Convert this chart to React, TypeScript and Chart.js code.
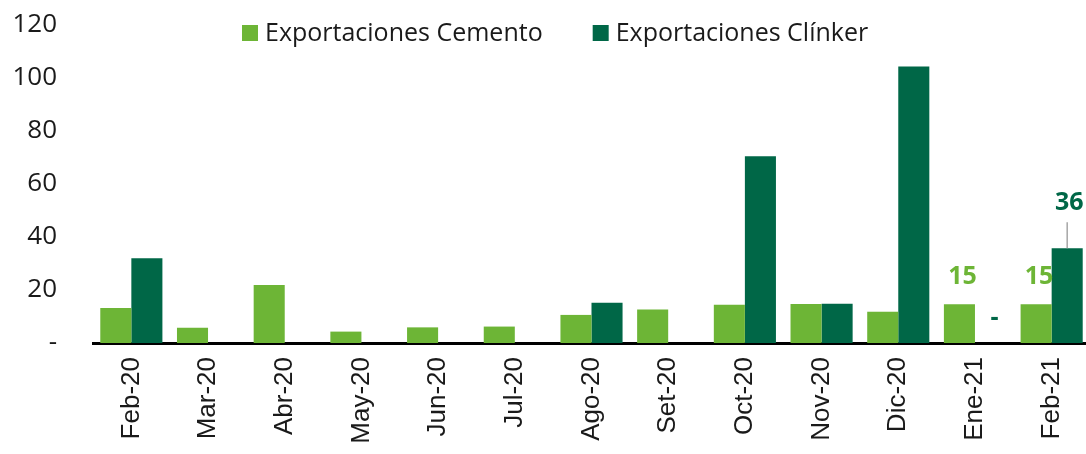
import React, { useEffect, useRef } from "react";
import { Chart, registerables } from "chart.js";

Chart.register(...registerables);

const categories = ["Feb-20", "Mar-20", "Abr-20", "May-20", "Jun-20", "Jul-20", "Ago-20", "Set-20", "Oct-20", "Nov-20", "Dic-20", "Ene-21", "Feb-21"];
const cementoValues = [13.2, 5.8, 21.9, 4.3, 5.9, 6.2, 10.6, 12.6, 14.4, 14.7, 11.8, 14.6, 14.6];
const clinkerValues = [32.0, 0, 0, 0, 0, 0, 15.2, 0, 70.5, 14.8, 104.3, 0, 35.8];
const yTickValues = [0, 20, 40, 60, 80, 100, 120];
const labeledIndices = [11, 12];
const seriesNames = ["Exportaciones Cemento", "Exportaciones Clínker"];

const LIGHT = "#6DB536";
const DARK = "#006747";
const FONT = "'Open Sans', sans-serif";
const XFONT = "'Liberation Sans', Arial, sans-serif";

const labelPlugin = {
  id: "valueLabels",
  afterDatasetsDraw(chart: any) {
    const ctx = chart.ctx;
    ctx.save();
    ctx.font = `bold 25px ${FONT}`;
    ctx.textAlign = "center";
    ctx.textBaseline = "alphabetic";
    chart.data.datasets.forEach((ds: any, di: number) => {
      const meta = chart.getDatasetMeta(di);
      labeledIndices.forEach((i) => {
        const el = meta.data[i];
        const v = ds.data[i];
        const color = di === 0 ? LIGHT : DARK;
        ctx.fillStyle = color;
        if (v === 0) {
          ctx.fillText("-", el.x + 4, el.y - 18);
        } else if (di === 1) {
          ctx.strokeStyle = "#A6A6A6";
          ctx.lineWidth = 1.5;
          ctx.beginPath();
          ctx.moveTo(el.x, el.y);
          ctx.lineTo(el.x, el.y - 26);
          ctx.stroke();
          ctx.fillText(String(Math.round(v)), el.x + 2, el.y - 38);
        } else {
          ctx.fillText(String(Math.round(v)), el.x + 3, el.y - 20);
        }
      });
    });
    ctx.restore();
  },
};

const legendPlugin = {
  id: "customLegend",
  afterDraw(chart: any) {
    const ctx = chart.ctx;
    ctx.save();
    ctx.font = `25px ${FONT}`;
    ctx.textBaseline = "middle";
    ctx.textAlign = "left";
    let x = 242;
    const yc = 33;
    chart.data.datasets.forEach((ds: any, i: number) => {
      ctx.fillStyle = ds.backgroundColor;
      ctx.fillRect(x, yc - 8, 16, 16);
      x += 23;
      ctx.fillStyle = "#1a1a1a";
      ctx.fillText(seriesNames[i], x, yc + 1);
      x += ctx.measureText(seriesNames[i]).width + 50;
    });
    ctx.restore();
  },
};

export default function App() {
  const ref = useRef<HTMLCanvasElement>(null);
  useEffect(() => {
    if (!ref.current) return;
    const chart = new Chart(ref.current, {
      type: "bar",
      data: {
        labels: categories,
        datasets: [
          { label: seriesNames[0], data: cementoValues, backgroundColor: LIGHT, categoryPercentage: 0.81, barPercentage: 1 },
          { label: seriesNames[1], data: clinkerValues, backgroundColor: DARK, categoryPercentage: 0.81, barPercentage: 1 },
        ],
      },
      options: {
        animation: false,
        responsive: false,
        maintainAspectRatio: false,
        layout: { padding: { top: 25, right: 0, left: 0, bottom: 0 } },
        plugins: { legend: { display: false }, tooltip: { enabled: false } },
        scales: {
          x: {
            grid: { display: false, drawTicks: false },
            border: { display: true, color: "#000", width: 3 },
            ticks: {
              color: "#1a1a1a",
              font: { family: XFONT, size: 26 },
              maxRotation: 90,
              minRotation: 90,
              padding: 14,
              autoSkip: false,
            },
            afterFit: (s: any) => { s.height = 111; s.paddingLeft = 0; s.paddingRight = 0; },
          },
          y: {
            min: 0,
            max: 120,
            afterBuildTicks: (s: any) => { s.ticks = yTickValues.map((v) => ({ value: v })); },
            grid: { display: false, drawTicks: false },
            border: { display: false },
            ticks: {
              color: "#1a1a1a",
              font: { family: FONT, size: 26 },
              padding: 36,
              callback: (v: any) => (v === 0 ? "-" : String(v)),
            },
            afterFit: (s: any) => { s.width = 93; s.paddingTop = 0; s.paddingBottom = 0; },
          },
        },
      },
      plugins: [labelPlugin, legendPlugin],
    });
    return () => chart.destroy();
  }, []);
  return (
    <div style={{ position: "absolute", left: 0, top: 0, width: 1086, height: 454, overflow: "hidden", background: "#fff" }}>
      <canvas ref={ref} width={1090} height={454} style={{ width: 1090, height: 454, display: "block" }} />
    </div>
  );
}
